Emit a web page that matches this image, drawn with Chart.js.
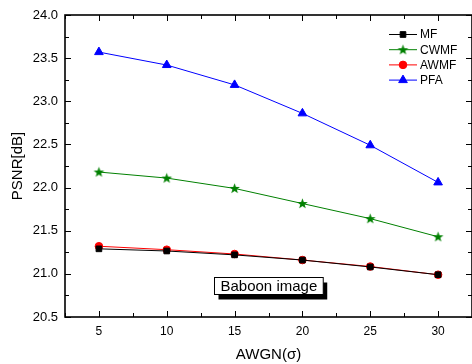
<!DOCTYPE html>
<html><head><meta charset="utf-8">
<script src="https://cdn.jsdelivr.net/npm/chart.js@4/dist/chart.umd.min.js"></script>
<style>html,body{margin:0;padding:0;background:#fff;overflow:hidden}#wrap{width:472px;height:364px;position:relative}</style>
</head><body><div id="wrap"><canvas id="c" width="472" height="364"></canvas></div>
<script>
// ---- data ----
const sigma = [5, 10, 15, 20, 25, 30];
const mf   = [21.29, 21.265, 21.22, 21.16, 21.08, 20.99];
const cwmf = [22.18, 22.11, 21.99, 21.815, 21.64, 21.43];
const awmf = [21.32, 21.28, 21.23, 21.16, 21.085, 20.99];
const pfa  = [23.57, 23.42, 23.19, 22.86, 22.49, 22.06];
const seriesNames = ['MF', 'CWMF', 'AWMF', 'PFA'];
const xTickLabels = ['5', '10', '15', '20', '25', '30'];
const yTickLabels = ['20.5', '21.0', '21.5', '22.0', '22.5', '23.0', '23.5', '24.0'];
const xAxisTitle = 'AWGN(\u03c3)';
const yAxisTitle = 'PSNR[dB]';
const noteText = 'Baboon image';
const notePos = {x: 17.5, y: 20.865};

const FONT = "'Liberation Sans', Arial, sans-serif";

function starCanvas(color) {
  const c = document.createElement('canvas');
  c.width = 13; c.height = 13;
  const g = c.getContext('2d');
  g.fillStyle = color;
  g.beginPath();
  const R = 5.6, r = 2.3, cx = 6.5, cy = 6.8;
  for (let i = 0; i < 10; i++) {
    const a = -Math.PI / 2 + i * Math.PI / 5;
    const rad = i % 2 === 0 ? R : r;
    const px = cx + rad * Math.cos(a), py = cy + rad * Math.sin(a);
    if (i === 0) g.moveTo(px, py); else g.lineTo(px, py);
  }
  g.closePath();
  g.fill();
  return c;
}
const star = starCanvas('#008000');

function mk(name, vals, color, style, radius) {
  return {
    label: name,
    data: sigma.map((s, i) => ({x: s, y: vals[i]})),
    borderColor: color,
    backgroundColor: color,
    pointBackgroundColor: color,
    pointBorderColor: color,
    borderWidth: 1,
    pointStyle: style,
    pointRadius: radius,
    pointBorderWidth: 1,
    tension: 0,
    fill: false
  };
}

const datasets = [
  mk(seriesNames[0], mf, '#000000', 'rect', 4),
  mk(seriesNames[1], cwmf, '#008000', star, 5),
  mk(seriesNames[2], awmf, '#ff0000', 'circle', 3.8),
  mk(seriesNames[3], pfa, '#0000ff', 'triangle', 5)
];

const framePlugin = {
  id: 'frame',
  afterDatasetsDraw(chart) {
    const ctx = chart.ctx, ca = chart.chartArea;
    const xs = chart.scales.x, ys = chart.scales.y;
    ctx.save();
    ctx.strokeStyle = '#000';
    ctx.lineWidth = 1;
    xs.ticks.forEach(t => {
      const px = Math.round(xs.getPixelForValue(t.value)) + 0.5;
      const major = sigma.includes(t.value);
      const L = major ? 6 : 4;
      ctx.beginPath();
      ctx.moveTo(px, ca.bottom); ctx.lineTo(px, ca.bottom - L);
      ctx.moveTo(px, ca.top); ctx.lineTo(px, ca.top + L);
      ctx.stroke();
    });
    ys.ticks.forEach(t => {
      const py = Math.round(ys.getPixelForValue(t.value)) + 0.5;
      const major = Math.abs(t.value * 2 - Math.round(t.value * 2)) < 1e-6;
      const L = major ? 6 : 4;
      ctx.beginPath();
      ctx.moveTo(ca.left, py); ctx.lineTo(ca.left + L, py);
      ctx.moveTo(ca.right, py); ctx.lineTo(ca.right - L, py);
      ctx.stroke();
    });
    ctx.lineWidth = 1.6;
    ctx.strokeRect(ca.left, ca.top, ca.right - ca.left, ca.bottom - ca.top);
    ctx.restore();
  },
  afterDraw(chart) {
    const ctx = chart.ctx, ca = chart.chartArea;
    const xs = chart.scales.x, ys = chart.scales.y;
    ctx.save();
    ctx.font = '12px ' + FONT;
    ctx.textBaseline = 'middle';
    chart.data.datasets.forEach((ds, i) => {
      const y = ca.top + 19.5 + i * 15.2;
      const x0 = ca.right - 83, x1 = ca.right - 55;
      ctx.strokeStyle = ds.borderColor;
      ctx.lineWidth = 1;
      ctx.beginPath(); ctx.moveTo(x0, y); ctx.lineTo(x1, y); ctx.stroke();
      const xm = (x0 + x1) / 2;
      ctx.fillStyle = ds.pointBackgroundColor; ctx.strokeStyle = ds.pointBorderColor;
      Chart.helpers.drawPoint(ctx, {pointStyle: ds.pointStyle, radius: ds.pointRadius, rotation: 0, borderWidth: 1}, xm, y);
      ctx.fillStyle = '#000';
      ctx.fillText(ds.label, x1 + 3, y + 0.5);
    });
    ctx.font = '15px ' + FONT;
    const tw = ctx.measureText(noteText).width;
    const cx = xs.getPixelForValue(notePos.x), cy = ys.getPixelForValue(notePos.y);
    const w = tw + 12, h = 17;
    const bx = Math.round(cx - w / 2) + 0.5, by = Math.round(cy - h / 2) + 0.5;
    ctx.fillStyle = '#000';
    ctx.fillRect(bx + 4, by + 5, w, h);
    ctx.fillStyle = '#fff';
    ctx.fillRect(bx, by, w, h);
    ctx.strokeStyle = '#000'; ctx.lineWidth = 1;
    ctx.strokeRect(bx, by, w, h);
    ctx.fillStyle = '#000';
    ctx.textAlign = 'center';
    ctx.textBaseline = 'middle';
    ctx.fillText(noteText, bx + w / 2, by + h / 2 + 1);
    ctx.restore();
  }
};

new Chart(document.getElementById('c'), {
  type: 'line',
  data: {datasets},
  options: {
    responsive: false,
    animation: false,
    devicePixelRatio: 1,
    layout: {autoPadding: false, padding: {left: 0, top: 15, right: 0, bottom: 0}},
    plugins: {legend: {display: false}, tooltip: {enabled: false}},
    scales: {
      x: {
        type: 'linear', position: 'bottom', min: 2.5, max: 32.5,
        afterFit: s => { s.height = 47; s.paddingRight = 0; s.paddingLeft = 0; },
        grid: {display: false, drawTicks: false},
        border: {display: false},
        ticks: {
          stepSize: 2.5, autoSkip: false, maxRotation: 0, padding: 7,
          color: '#000', font: {family: FONT, size: 12},
          callback: v => { const i = sigma.indexOf(v); return i >= 0 ? xTickLabels[i] : ''; }
        },
        title: {display: true, text: xAxisTitle, color: '#000', font: {family: FONT, size: 15}, padding: {top: 0, bottom: 0}}
      },
      y: {
        type: 'linear', min: 20.5, max: 24.0,
        afterFit: s => { s.width = 65; },
        grid: {display: false, drawTicks: false},
        border: {display: false},
        ticks: {
          stepSize: 0.25, autoSkip: false, padding: 7,
          color: '#000', font: {family: FONT, size: 13},
          callback: v => { const s = v.toFixed(1); return (Math.abs(v * 2 - Math.round(v * 2)) < 1e-6 && yTickLabels.includes(s)) ? s : ''; }
        },
        title: {display: true, text: yAxisTitle, color: '#000', font: {family: FONT, size: 15}, padding: {top: 9, bottom: 0}}
      }
    }
  },
  plugins: [framePlugin]
});
</script>
</body></html>
